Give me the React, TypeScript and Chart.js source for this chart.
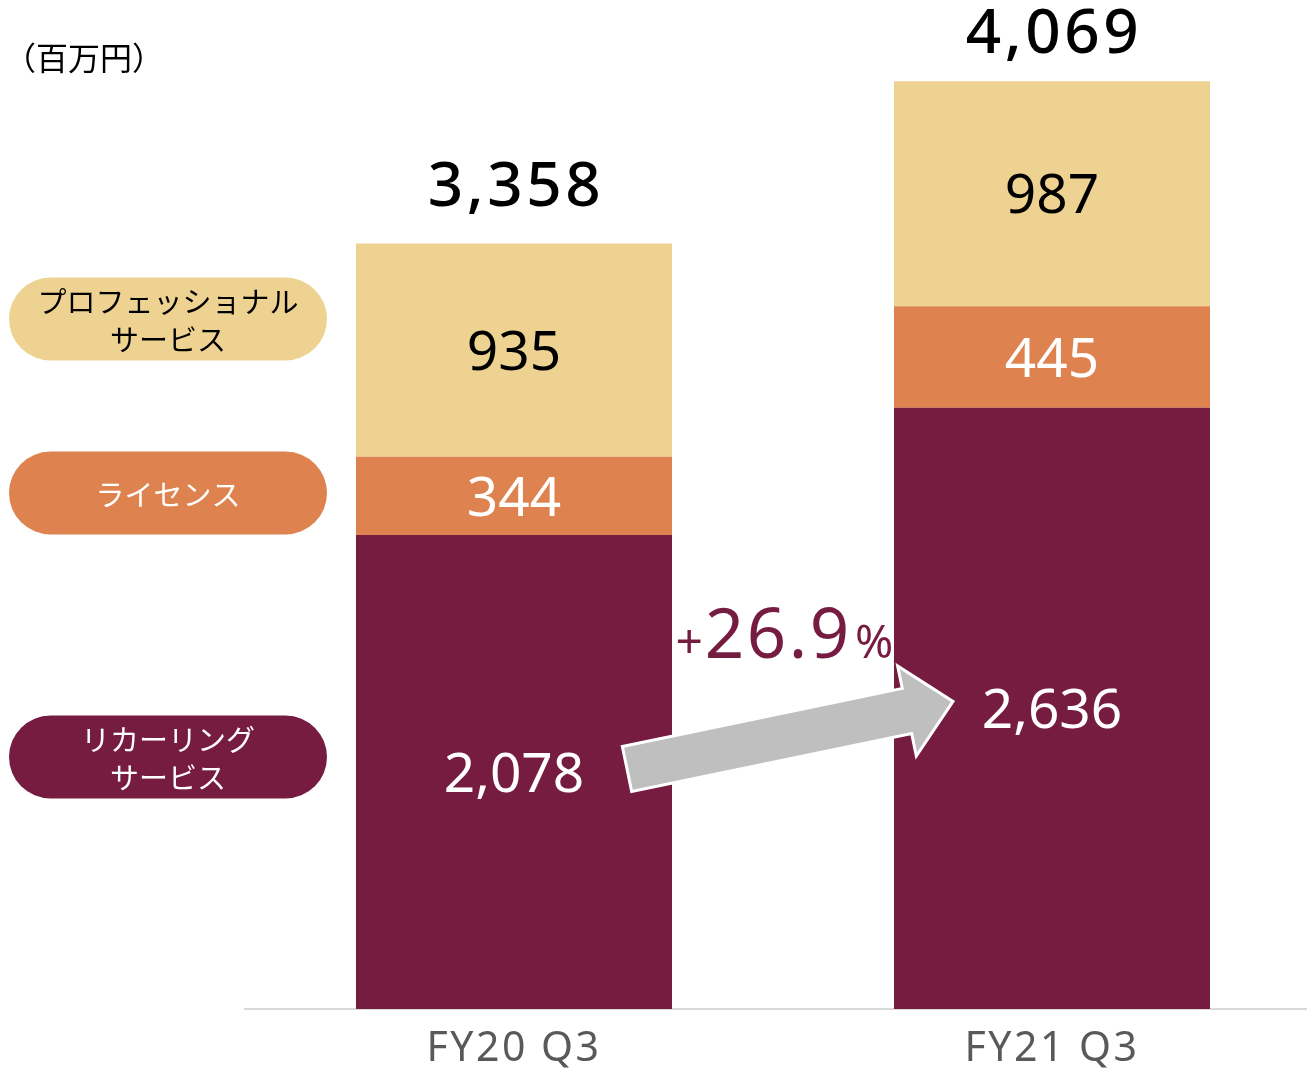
import React, { useEffect, useRef } from 'react';
import { Chart, registerables } from 'chart.js';

Chart.register(...registerables);

// ---- data ----
const categories = ['FY20 Q3', 'FY21 Q3'];
const recurringValues = [2078, 2636];
const licenseValues = [344, 445];
const professionalValues = [935, 987];
const totalValues = [3358, 4069];
const seriesNames = ['リカーリング\nサービス', 'ライセンス', 'プロフェッショナル\nサービス'];
const growthParts = ['+', '26.9', '%'];
const unitText = '（百万円）';

// ---- styles / layout ----
const seriesColors = ['#761C40', '#DE824F', '#EED291'];
const seriesTextColors = ['#FFFFFF', '#FFFFFF', '#000000'];
const pillCentersY = [757, 493, 319];
const totalGaps = [37, 28];
const NUM_FONT = "'Noto Sans', 'DejaVu Sans', sans-serif";
const JP_FONT = "'Noto Sans CJK JP', 'Noto Sans', sans-serif";

const labelsPlugin = {
  id: 'customLabels',
  beforeDraw(chart: any) {
    chart.ctx.letterSpacing = '2.5px';
  },
  afterDatasetsDraw(chart: any) {
    const ctx = chart.ctx as CanvasRenderingContext2D;
    const yScale = chart.scales.y;
    ctx.save();
    ctx.letterSpacing = '0px';

    // unit
    ctx.fillStyle = '#000';
    ctx.font = `32px ${JP_FONT}`;
    ctx.textAlign = 'center';
    ctx.textBaseline = 'middle';
    ctx.fillText(unitText, 84, 58);

    // legend pills
    for (let i = 0; i < seriesNames.length; i++) {
      const cy = pillCentersY[i];
      const left = 9, right = 327, h = 83, r = h / 2;
      ctx.beginPath();
      ctx.moveTo(left + r, cy - r);
      ctx.lineTo(right - r, cy - r);
      ctx.arc(right - r, cy, r, -Math.PI / 2, Math.PI / 2);
      ctx.lineTo(left + r, cy + r);
      ctx.arc(left + r, cy, r, Math.PI / 2, Math.PI * 1.5);
      ctx.closePath();
      ctx.fillStyle = seriesColors[i];
      ctx.fill();
      const lines = seriesNames[i].split('\n');
      ctx.fillStyle = seriesTextColors[i];
      ctx.font = `29px ${JP_FONT}`;
      ctx.textAlign = 'center';
      ctx.textBaseline = 'middle';
      const lh = 38;
      lines.forEach((ln, k) => {
        ctx.fillText(ln, (left + right) / 2, cy + 2 + (k - (lines.length - 1) / 2) * lh);
      });
    }

    // segment labels
    chart.data.datasets.forEach((ds: any, di: number) => {
      const meta = chart.getDatasetMeta(di);
      meta.data.forEach((el: any, idx: number) => {
        const v = ds.data[idx];
        const cy = (el.y + el.base) / 2;
        ctx.fillStyle = seriesTextColors[di];
        ctx.font = `55px ${NUM_FONT}`;
        ctx.textAlign = 'center';
        ctx.textBaseline = 'alphabetic';
        ctx.fillText(v.toLocaleString('en-US'), el.x, cy + 0.357 * 55);
      });
    });

    // totals
    const topMeta = chart.getDatasetMeta(2);
    topMeta.data.forEach((el: any, idx: number) => {
      ctx.fillStyle = '#000';
      ctx.font = `500 62px ${NUM_FONT}`;
      ctx.letterSpacing = '3.5px';
      ctx.textAlign = 'center';
      ctx.textBaseline = 'alphabetic';
      ctx.fillText(totalValues[idx].toLocaleString('en-US'), el.x + 2, el.y - totalGaps[idx]);
    });
    ctx.letterSpacing = '0px';

    // arrow
    const baseMeta = chart.getDatasetMeta(0);
    const b1 = baseMeta.data[0] as any;
    const b2 = baseMeta.data[1] as any;
    const tx = b1.x + b1.width / 2 - 45;
    const ty = yScale.getPixelForValue(recurringValues[0] / 2) - 3;
    const px = b2.x - b2.width / 2 + 59;
    const py = yScale.getPixelForValue(recurringValues[1] / 2) - 7;
    const dx = px - tx, dy = py - ty;
    const L = Math.hypot(dx, dy);
    const ux = dx / L, uy = dy / L;
    const nx = -uy, ny = ux;
    const sh = 23, hh = 46, hl = 47;
    const pt = (a: number, b: number) => [tx + ux * a + nx * b, ty + uy * a + ny * b];
    const pts = [pt(0, -sh), pt(L - hl, -sh), pt(L - hl, -hh), pt(L, 0), pt(L - hl, hh), pt(L - hl, sh), pt(0, sh)];
    ctx.beginPath();
    pts.forEach((p, k) => (k === 0 ? ctx.moveTo(p[0], p[1]) : ctx.lineTo(p[0], p[1])));
    ctx.closePath();
    ctx.fillStyle = '#BFBFBF';
    ctx.fill();
    ctx.strokeStyle = '#FFFFFF';
    ctx.lineWidth = 3;
    ctx.lineJoin = 'miter';
    ctx.stroke();

    // growth text
    const c = (b1.x + b2.x) / 2;
    const baseY = py - 43;
    ctx.fillStyle = '#761C40';
    ctx.textBaseline = 'alphabetic';
    ctx.font = `48px ${NUM_FONT}`;
    ctx.textAlign = 'right';
    ctx.fillText(growthParts[0], c - 80, baseY);
    ctx.font = `69px ${NUM_FONT}`;
    ctx.letterSpacing = '2.5px';
    ctx.textAlign = 'center';
    ctx.fillText(growthParts[1], c - 6 + 1.25, baseY);
    ctx.letterSpacing = '0px';
    ctx.font = `46px ${NUM_FONT}`;
    ctx.textAlign = 'left';
    ctx.fillText(growthParts[2], c + 72, baseY);

    ctx.restore();
  },
  afterDraw(chart: any) {
    chart.ctx.letterSpacing = '0px';
  },
};

export default function App() {
  const ref = useRef<HTMLCanvasElement | null>(null);
  useEffect(() => {
    if (!ref.current) return;
    const chart = new Chart(ref.current, {
      type: 'bar',
      data: {
        labels: categories,
        datasets: [
          { label: seriesNames[0], data: recurringValues, backgroundColor: seriesColors[0] },
          { label: seriesNames[1], data: licenseValues, backgroundColor: seriesColors[1] },
          { label: seriesNames[2], data: professionalValues, backgroundColor: seriesColors[2] },
        ],
      },
      options: {
        responsive: false,
        animation: false,
        events: [],
        layout: { padding: { left: 245, right: 9, top: 1, bottom: 0 } },
        datasets: { bar: { barPercentage: 1, categoryPercentage: 0.5874, borderWidth: 0 } },
        plugins: { legend: { display: false }, tooltip: { enabled: false } },
        scales: {
          x: {
            stacked: true,
            grid: { display: false, drawTicks: false },
            border: { display: true, color: '#D9D9D9', width: 2 },
            ticks: { color: '#595959', font: { family: "'Noto Sans', sans-serif", size: 41 }, padding: 16 },
            afterFit: (axis: any) => { axis.height = 62; },
          },
          y: { stacked: true, display: false, min: 0, max: 4420 },
        },
      },
      plugins: [labelsPlugin],
    });
    return () => chart.destroy();
  }, []);
  return (
    <div style={{ position: 'fixed', left: 0, top: 0, width: 1307, height: 1071, overflow: 'hidden', background: '#fff' }}>
      <canvas ref={ref} width={1330} height={1071} style={{ display: 'block', width: 1330, height: 1071 }} />
    </div>
  );
}
